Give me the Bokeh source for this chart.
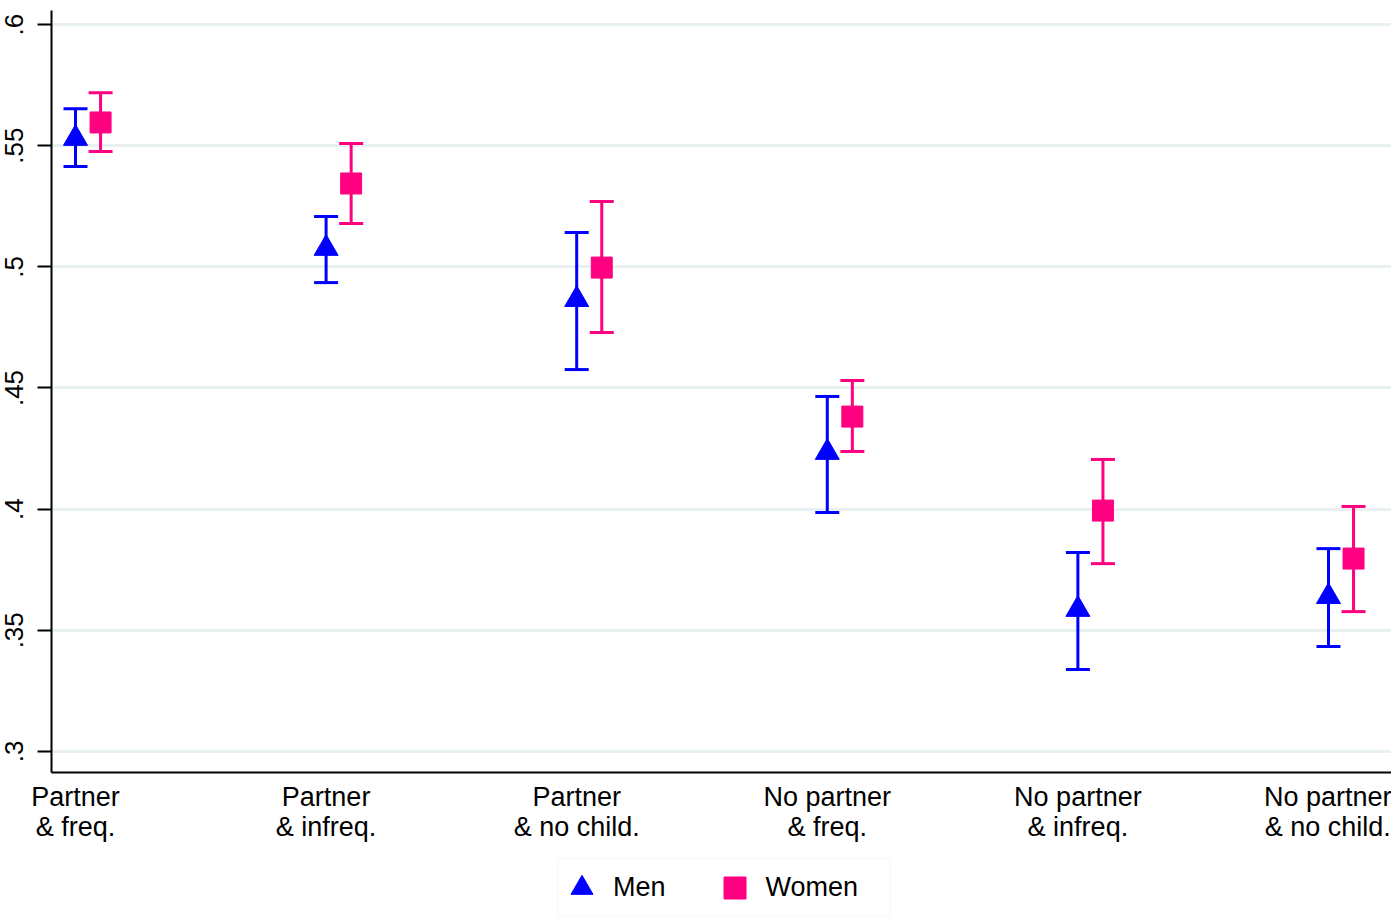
import math
from bokeh.plotting import figure
from bokeh.layouts import column
from bokeh.models import (ColumnDataSource, Whisker, TeeHead, FixedTicker, Range1d,
                          Legend, LegendItem, BoxAnnotation)
from bokeh.embed import file_html
from bokeh.resources import INLINE

categories = ["Partner\n& freq.", "Partner\n& infreq.", "Partner\n& no child.",
              "No partner\n& freq.", "No partner\n& infreq.", "No partner\n& no child."]
men_est = [0.553, 0.5076, 0.4865, 0.4234, 0.3586, 0.3639]
men_hi = [0.5653, 0.5208, 0.5142, 0.4465, 0.3821, 0.3837]
men_lo = [0.5414, 0.4935, 0.4576, 0.3986, 0.3338, 0.3433]
women_est = [0.5596, 0.5344, 0.4997, 0.4382, 0.3994, 0.3796]
women_hi = [0.5719, 0.5509, 0.5270, 0.4531, 0.4205, 0.4011]
women_lo = [0.5476, 0.5179, 0.4729, 0.4238, 0.3775, 0.3577]
y_ticks = [0.3, 0.35, 0.4, 0.45, 0.5, 0.55, 0.6]
y_tick_labels = [".3", ".35", ".4", ".45", ".5", ".55", ".6"]
series_names = ["Men", "Women"]

BLUE = "#0000FF"
PINK = "#FF0080"
GRID = "#E9F0F2"
FONT = "Liberation Sans"

xpos = list(range(1, len(categories) + 1))
men_x = [x for x in xpos]
women_x = [x + 0.1 for x in xpos]

men_src = ColumnDataSource(dict(x=men_x, y=men_est, hi=men_hi, lo=men_lo))
women_src = ColumnDataSource(dict(x=women_x, y=women_est, hi=women_hi, lo=women_lo))

p = figure(frame_width=1340, frame_height=762, output_backend="svg", toolbar_location=None,
           x_range=Range1d(0.9042, 6.2515), y_range=Range1d(0.2913, 0.6058),
           min_border_left=51, min_border_top=10, min_border_right=0, min_border_bottom=76)
p.outline_line_color = None
p.background_fill_color = "white"
p.border_fill_color = "white"

# grid
p.xgrid.visible = False
p.ygrid.grid_line_color = GRID
p.ygrid.grid_line_width = 3
p.ygrid.ticker = FixedTicker(ticks=y_ticks)

# y axis
p.yaxis.ticker = FixedTicker(ticks=y_ticks)
p.yaxis.major_label_overrides = {t: l for t, l in zip(y_ticks, y_tick_labels)}
p.yaxis.major_label_orientation = "parallel"
p.yaxis.major_label_text_font = FONT
p.yaxis.major_label_text_font_size = "26px"
p.yaxis.major_label_text_color = "black"
p.yaxis.axis_line_color = "black"
p.yaxis.axis_line_width = 2
p.yaxis.major_tick_line_width = 2
p.yaxis.major_tick_line_color = "black"
p.yaxis.major_tick_out = 14
p.yaxis.major_tick_in = 0
p.yaxis.minor_tick_line_color = None
p.yaxis.major_label_standoff = 14

# x axis
p.xaxis.ticker = FixedTicker(ticks=xpos)
p.xaxis.major_label_overrides = {x: c for x, c in zip(xpos, categories)}
p.xaxis.major_label_text_font = FONT
p.xaxis.major_label_text_font_size = "27px"
p.xaxis.major_label_text_color = "black"
p.xaxis.axis_line_color = "black"
p.xaxis.axis_line_width = 2
p.xaxis.major_tick_line_color = None
p.xaxis.major_tick_out = 0
p.xaxis.major_tick_in = 0
p.xaxis.minor_tick_line_color = None
p.xaxis.major_label_standoff = 9
p.xaxis.major_label_text_line_height = 1.0

# error bars
for src, col in ((men_src, BLUE), (women_src, PINK)):
    w = Whisker(source=src, base="x", upper="hi", lower="lo", dimension="height",
                line_color=col, line_width=3,
                upper_head=TeeHead(size=24, line_color=col, line_width=3),
                lower_head=TeeHead(size=24, line_color=col, line_width=3))
    p.add_layout(w)

p.scatter("x", "y", source=men_src, marker="triangle", size=24,
          fill_color=BLUE, line_color=BLUE, line_width=1)
p.scatter("x", "y", source=women_src, marker="square", size=21,
          fill_color=PINK, line_color=PINK, line_width=1)

# legend strip below the chart (frame pixels == data units, offset by 1000 vertically)
leg = figure(frame_width=1340, frame_height=70, output_backend="svg", toolbar_location=None,
             x_range=Range1d(0, 1340), y_range=Range1d(1000, 1070),
             min_border_left=51, min_border_top=0, min_border_right=0, min_border_bottom=0)
leg.axis.visible = False
leg.grid.visible = False
leg.outline_line_color = None
leg.border_fill_color = "white"
leg.background_fill_color = "white"
# series renderers (their data lie far outside this strip's view; only legend glyphs show)
lm = leg.scatter("x", "y", source=men_src, marker="triangle", size=22,
                 fill_color=BLUE, line_color=BLUE)
lw = leg.scatter("x", "y", source=women_src, marker="square", size=20,
                 fill_color=PINK, line_color=PINK)

leg.add_layout(BoxAnnotation(left=506, right=839, bottom=1003, top=1060,
                             fill_color="white", fill_alpha=1.0,
                             line_color=GRID, line_width=2, level="underlay"))

legend = Legend(items=[LegendItem(label=series_names[0], renderers=[lm]),
                       LegendItem(label=series_names[1], renderers=[lw])],
                orientation="horizontal", location=(503, 3))
legend.label_text_font = FONT
legend.label_text_font_size = "27px"
legend.label_text_color = "black"
legend.border_line_color = None
legend.background_fill_color = None
legend.background_fill_alpha = 0
legend.glyph_width = 55
legend.glyph_height = 55
legend.label_standoff = 4
legend.spacing = 41
legend.padding = 0
legend.margin = 0
leg.add_layout(legend, "center")

open("out.html", "w").write(file_html(column(p, leg), INLINE))
